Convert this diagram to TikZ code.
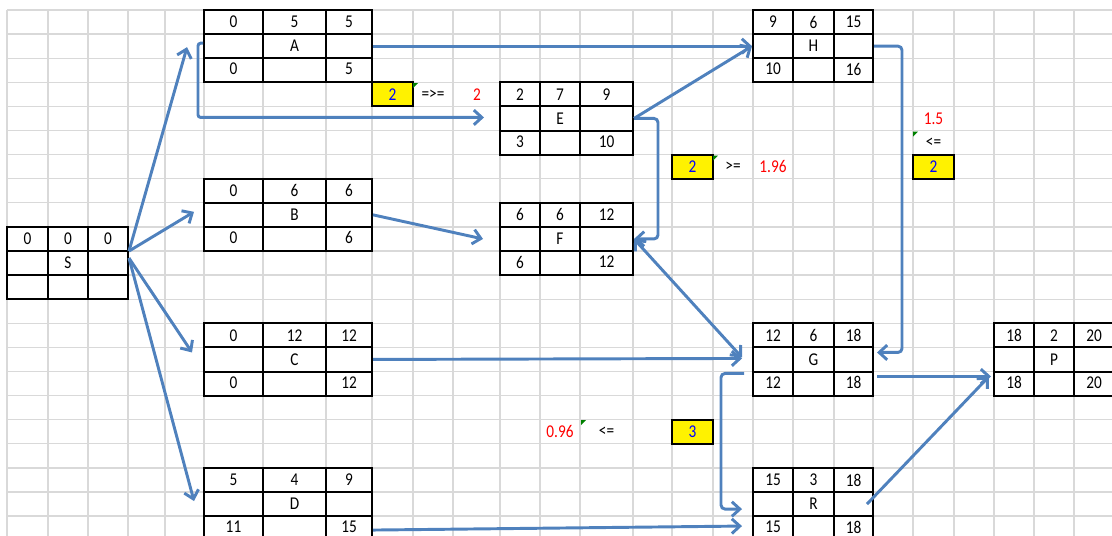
\documentclass[tikz,border=0pt]{standalone}
\usepackage{fontspec}
\setmainfont{Carlito}[FakeStretch=0.85]
\usetikzlibrary{arrows.meta, calc, fit}
\definecolor{linkblue}{RGB}{79, 129, 189}
\definecolor{gridgray}{RGB}{217, 217, 217}
\definecolor{flaggreen}{RGB}{0, 128, 0}

\newcommand{\acttable}[8]{%
  \pgfmathsetmacro\ytop{10+24.1*#6}
  \coordinate (#1nw) at (#2,\ytop);
  \coordinate (#1se) at (#5,{\ytop+72.3});
  \node[tablebox, fit=(#1nw)(#1se)] (#1) {};
  \draw[tableline] (#2,{\ytop+24.1}) -- (#5,{\ytop+24.1}) (#2,{\ytop+48.2}) -- (#5,{\ytop+48.2})
    (#3,\ytop) -- (#3,{\ytop+72.3}) (#4,\ytop) -- (#4,{\ytop+72.3});
  \foreach \tes/\tdur/\tef in {#7} {
    \node[celltext] (#1es) at ({(#2+#3)/2},{\ytop+12.05}) {\tes};
    \node[celltext] (#1dur) at ({(#3+#4)/2},{\ytop+12.05}) {\tdur};
    \node[celltext] (#1ef) at ({(#4+#5)/2},{\ytop+12.05}) {\tef};
  }
  \node[celltext] (#1lbl) at ({(#3+#4)/2},{\ytop+36.15}) {#1};
  \foreach \tls/\tlf in {#8} {
    \node[celltext] (#1ls) at ({(#2+#3)/2},{\ytop+59.2}) {\tls};
    \node[celltext] (#1lf) at ({(#4+#5)/2},{\ytop+59.2}) {\tlf};
  }
}

\begin{document}
\begin{tikzpicture}[
  x=0.75pt, y=-0.75pt,
  gridline/.style={draw=gridgray, line width=1pt},
  tablebox/.style={draw, line width=1.5pt, inner sep=0pt},
  tableline/.style={line width=1.5pt},
  celltext/.style={font=\fontsize{13.5pt}{16pt}\selectfont, inner sep=0pt},
  redtext/.style={celltext, text=red},
  yellowcell/.style={celltext, draw, line width=1.5pt, fill=yellow, text=blue, minimum width=30.75pt, minimum height=18.1pt},
  flag/.style={fill=flaggreen},
  >={Straight Barb[length=6pt, width=11pt]},
  link/.style={draw=linkblue, line width=2.2pt, ->}
]
  \useasboundingbox (0,0) rectangle (1112,535);
  \foreach \gx in {7,48,88,128,165,204,263,326,372,413,453,500,540,580,633,672,713,753,793,834,873,913,954,994,1034,1074}
    \draw[gridline] (\gx,10) -- (\gx,540);
  \foreach \k in {0,...,22}
    \draw[gridline] (7,{10+24.1*\k}) -- (1112,{10+24.1*\k});

  \acttable{S}{7}{48}{88}{128}{9}{0/0/0}{/}
  \acttable{A}{204}{263}{326}{372}{0}{0/5/5}{0/5}
  \acttable{B}{204}{263}{326}{372}{7}{0/6/6}{0/6}
  \acttable{C}{204}{263}{326}{372}{13}{0/12/12}{0/12}
  \acttable{D}{204}{263}{326}{372}{19}{5/4/9}{11/15}
  \acttable{E}{500}{540}{580}{633}{3}{2/7/9}{3/10}
  \acttable{F}{500}{540}{580}{633}{8}{6/6/12}{6/12}
  \acttable{H}{753}{793}{834}{873}{0}{9/6/15}{10/16}
  \acttable{G}{753}{793}{834}{873}{13}{12/6/18}{12/18}
  \acttable{R}{753}{793}{834}{873}{19}{15/3/18}{15/18}
  \acttable{P}{994}{1034}{1074}{1114}{13}{18/2/20}{18/20}

  \node[yellowcell] (chkA) at (392.5,94.35) {2};
  \node[celltext] (relA) at (433,94.35) {=>=};
  \node[redtext] (limA) at (477,94.35) {2};
  \node[yellowcell] (chkE) at (692.5,166.65) {2};
  \node[celltext] (relE) at (733,166.65) {>=};
  \node[redtext] (limE) at (773,166.65) {1.96};
  \node[redtext] (limH) at (933.5,118.45) {1.5};
  \node[celltext] (relH) at (933.5,142.55) {<=};
  \node[yellowcell] (chkH) at (933.5,166.65) {2};
  \node[redtext] (limR) at (560,431.75) {0.96};
  \node[celltext] (relR) at (606.5,431.75) {<=};
  \node[yellowcell] (chkR) at (692.5,431.75) {3};
  \foreach \fx/\fy in {413/83, 713/155.5, 913/131.5, 581/420}
    \fill[flag] (\fx,\fy) -- ++(5,0) -- ++(-5,5) -- cycle;

  \draw[link] ($(S.east)+(0,-12)$) -- ($(A.west)+(-16,1)$);
  \draw[link] ($(S.east)+(0,-12)$) -- ($(B.west)+(-9,-3)$);
  \draw[link] ($(S.east)+(0,-5)$) -- ($(C.west)+(-11,-7)$);
  \draw[link] ($(S.east)+(0,-5)$) -- ($(D.west)+(-9,-3)$);
  \draw[link] (A.east) -- (H.west);
  \draw[link, rounded corners=2pt] ($(A.west)+(0,-3)$) -- ++(-5,0) |- ($(E.west)+(-15,-1)$);
  \draw[link] (E.east) -- (H.west);
  \draw[link, rounded corners=3pt] (E.east) -- ++(24,0) |- (F.east);
  \draw[link] (B.east) -- ($(F.west)+(-16,0)$);
  \draw[link, <->] (F.east) -- ($(G.west)+(-10,-2)$);
  \draw[link] (C.east) -- ($(G.west)+(-10,-1)$);
  \draw[link, rounded corners=3pt] (H.east) -- ++(28,0) |- ($(G.east)+(3,-7)$);
  \draw[link] ($(G.east)+(3,17)$) -- ($(P.west)+(-2,17)$);
  \draw[link] ($(R.east)+(-7,0)$) -- ($(P.west)+(-4,17)$);
  \draw[link] ($(D.east)+(0,26)$) -- ($(R.west)+(-10,22)$);
  \draw[link, rounded corners=3pt] ($(G.west)+(-8,14)$) -- ++(-23,0) |- ($(R.west)+(-10,5)$);
\end{tikzpicture}
\end{document}
